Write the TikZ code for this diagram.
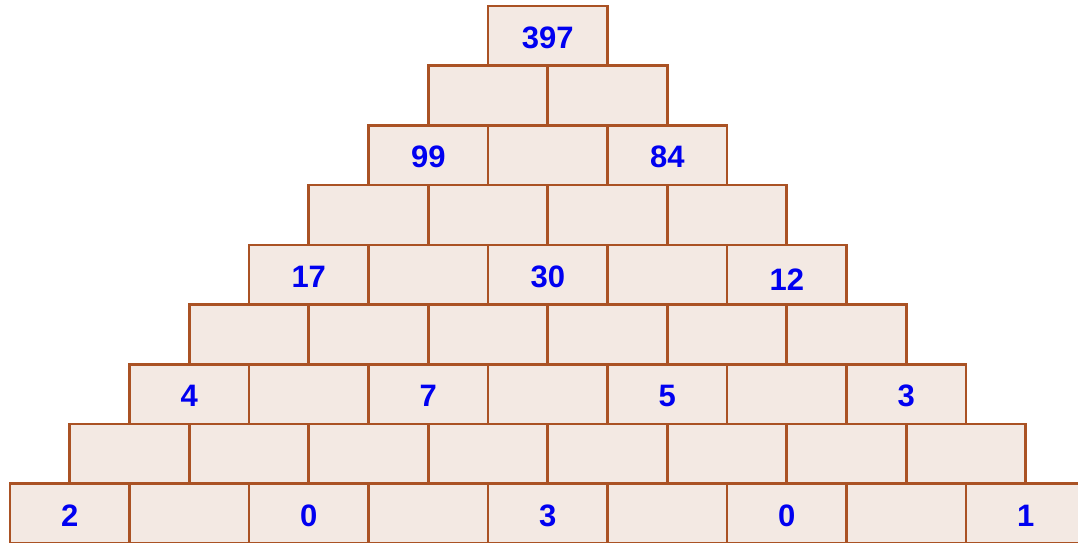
\documentclass[tikz,border=0pt]{standalone}
\usepackage{fontspec}
\setmainfont{Liberation Sans}
\usepackage{xcolor}
\usepackage{tikz}
\definecolor{brickfill}{RGB}{243,233,227}
\definecolor{brickline}{RGB}{170,82,36}
\definecolor{numblue}{RGB}{0,0,240}
\tikzset{
  brick/.style={draw=brickline, line width=2.6pt, fill=brickfill, rectangle, inner sep=0pt,
    minimum width=119.5pt, minimum height=59.7pt},
  num/.style={text=numblue, yshift=-2pt, font=\fontsize{31}{32}\selectfont\bfseries},
}

\begin{document}
\begin{tikzpicture}[x=1pt, y=1pt]
  \useasboundingbox (0,0) rectangle (1078,542);
  \clip (0,0) rectangle (1078,542);
  % bricks, row 0 at the top
  \foreach \r in {0,...,8} {
    \foreach \k in {0,...,\r} {
      \node[brick] (b-\r-\k) at ({547.75+(\k-\r/2)*119.5}, {542-35.85-\r*59.7}) {};
    }
  }
  % given numbers
  \foreach \r/\k/\v in {0/0/397, 2/0/99, 2/2/84, 4/0/17, 4/2/30,
      6/0/4, 6/2/7, 6/4/5, 6/6/3, 8/0/2, 8/2/0, 8/4/3, 8/6/0, 8/8/1}
    \node[num] (n-\r-\k) at (b-\r-\k) {\v};
  \node[num, yshift=-3pt] (n-4-4) at (b-4-4) {12};
\end{tikzpicture}
\end{document}
